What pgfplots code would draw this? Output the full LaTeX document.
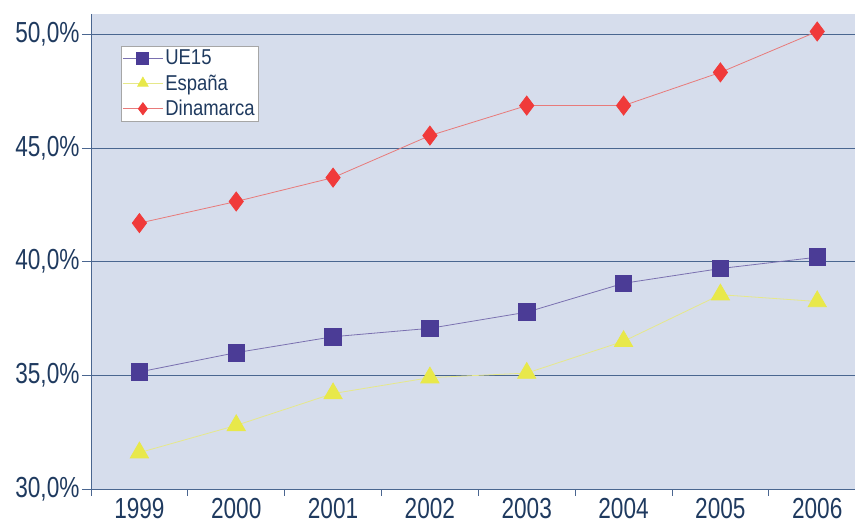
\documentclass[border=0pt]{standalone}
\usepackage{fontspec}
\setmainfont{Liberation Sans}[FakeStretch=0.78]
\newfontfamily\legfont{Liberation Sans}[FakeStretch=0.86]
\usepackage{pgfplots}
\pgfplotsset{compat=1.18}
\definecolor{txt}{HTML}{1F3A5F}
\definecolor{bg}{HTML}{D6DDEC}
\definecolor{gridc}{HTML}{4A6690}
\definecolor{ue}{HTML}{4B3C96}
\definecolor{uel}{HTML}{7A70B0}
\definecolor{es}{HTML}{E8E84A}
\definecolor{esl}{HTML}{E6E88A}
\definecolor{dk}{HTML}{F03A3A}
\definecolor{dkl}{HTML}{E87A7A}
\begin{document}
\begin{tikzpicture}[x=1pt,y=1pt]
\path[use as bounding box] (-91,-35) rectangle (764,489);
\begin{axis}[
  at={(0,0)}, anchor=south west,
  scale only axis, width=764pt, height=475pt,
  xmin=-0.5, xmax=7.39, ymin=30, ymax=50.9,
  axis background/.style={fill=bg},
  axis x line*=bottom, axis y line*=left,
  axis line style={gridc, line width=0.8pt},
  xtick={0,...,7}, xticklabels={1999,2000,2001,2002,2003,2004,2005,2006},
  minor xtick={-0.5,0.5,...,6.5},
  major x tick style={draw=none},
  minor x tick style={gridc, line width=0.8pt},
  minor tick length=7pt,
  xtick pos=bottom,
  ytick={30,35,40,45,50},
  yticklabels={{30,0\%},{35,0\%},{40,0\%},{45,0\%},{50,0\%}},
  ytick pos=left, ytick style={gridc, line width=0.8pt},
  major tick length=9pt,
  tick align=outside,
  ymajorgrids, major grid style={gridc, line width=0.9pt},
  ticklabel style={font=\fontsize{29}{31}\selectfont, text=txt},
  yticklabel style={xshift=1pt},
  xticklabel style={yshift=3.5pt},
  clip=false,
  legend style={at={(0.039,0.932)}, anchor=north west, fill=white, draw=gray!70,
     font=\legfont\fontsize{21.5}{24}\selectfont, text=txt, inner sep=1.5pt, row sep=4.5pt,
     cells={anchor=west}},
  legend image code/.code={
     \draw[#1, mark repeat=2, mark phase=2, mark size=6pt] plot coordinates {(0pt,0pt) (20pt,0pt) (40pt,0pt)};},
]
\addplot[uel, line width=0.8pt, mark=square*, mark size=8.3pt, mark options={ue, fill=ue, draw=ue}]
  coordinates {(0,35.15) (1,36.0) (2,36.7) (3,37.07) (4,37.78) (5,39.05) (6,39.7) (7,40.2)};
\addlegendentry{UE15}
\addplot[esl, line width=0.8pt, mark=triangle*, mark size=10.5pt, mark options={es, fill=es, draw=es}]
  coordinates {(0,31.6) (1,32.8) (2,34.2) (3,34.9) (4,35.1) (5,36.5) (6,38.55) (7,38.25)};
\addlegendentry{España}
\addplot[dkl, line width=0.8pt, mark=diamond*, mark size=9.5pt, mark options={dk, fill=dk, draw=dk}]
  coordinates {(0,41.7) (1,42.65) (2,43.7) (3,45.55) (4,46.87) (5,46.87) (6,48.33) (7,50.13)};
\addlegendentry{Dinamarca}
\end{axis}
\end{tikzpicture}
\end{document}
